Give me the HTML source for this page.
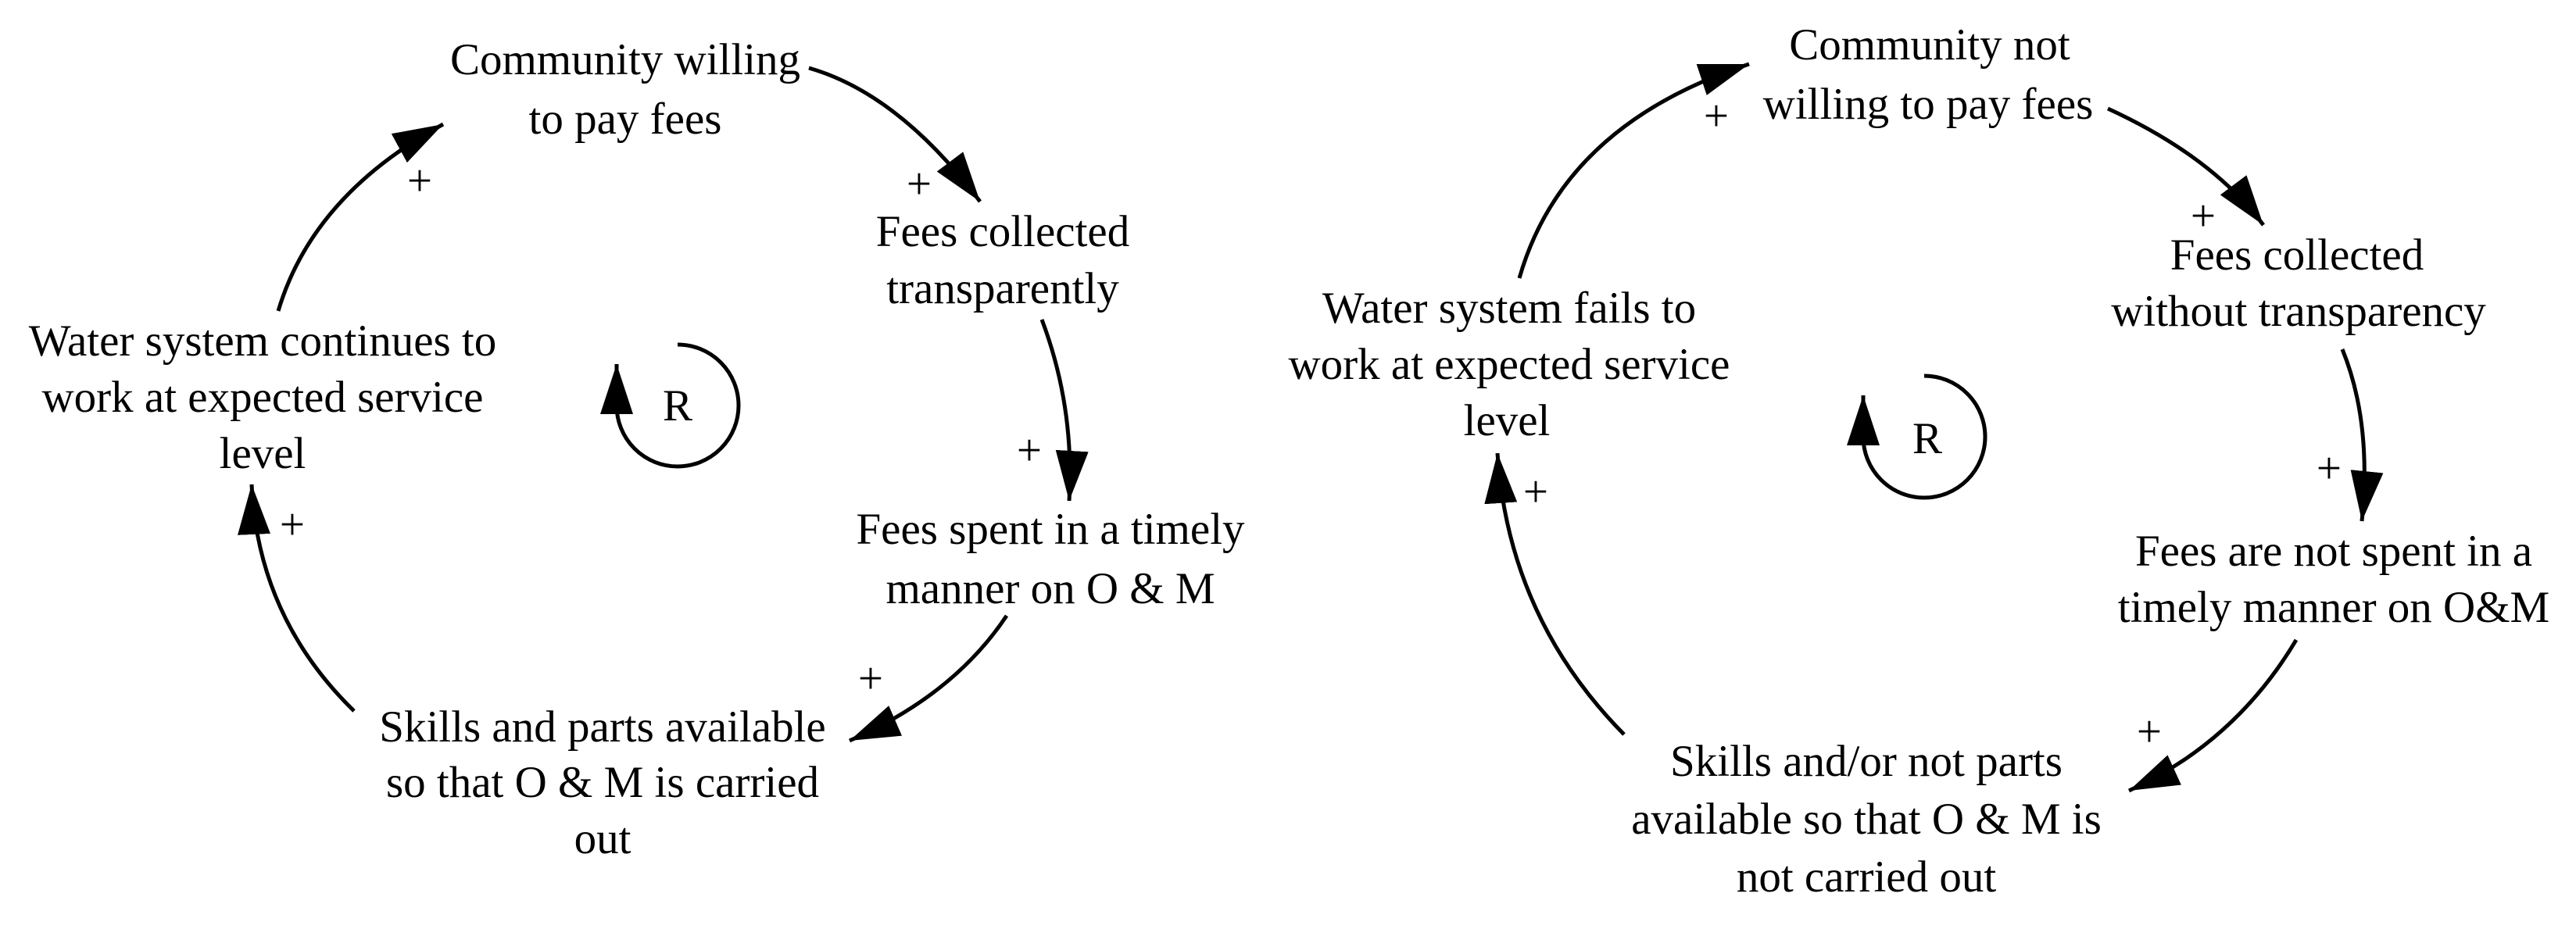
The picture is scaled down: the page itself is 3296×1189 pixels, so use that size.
<!DOCTYPE html>
<html><head><meta charset="utf-8"><style>
html,body{margin:0;padding:0;background:#fff;}
svg{display:block;}
text{font-family:"Liberation Serif",serif;font-size:57px;fill:#000;}
</style></head><body>
<svg width="3296" height="1189" viewBox="0 0 3296 1189" xmlns="http://www.w3.org/2000/svg">
<defs>
<marker id="a" markerUnits="userSpaceOnUse" markerWidth="70" markerHeight="46" refX="64" refY="21" orient="auto">
<path d="M0,0 L64,21 L0,42 z" fill="#000"/>
</marker>
</defs>
<g fill="none" stroke="#000" stroke-width="5">
<path d="M1035,87 Q1150,120 1254,258" marker-end="url(#a)"/>
<path d="M1333,409 Q1375,520 1368,641" marker-end="url(#a)"/>
<path d="M1288,788 Q1220,890 1087,948" marker-end="url(#a)"/>
<path d="M453,910 Q330,790 322,620" marker-end="url(#a)"/>
<path d="M356,398 Q400,250 567,159" marker-end="url(#a)"/>
<path d="M867,441 A78,78 0 1 1 789,519 L789,466" marker-end="url(#a)"/>
<path d="M1944,356 Q2000,160 2238,82" marker-end="url(#a)"/>
<path d="M2697,139 Q2830,200 2896,288" marker-end="url(#a)"/>
<path d="M2997,447 Q3035,540 3022,667" marker-end="url(#a)"/>
<path d="M2938,819 Q2860,950 2724,1012" marker-end="url(#a)"/>
<path d="M2078,940 Q1930,790 1916,580" marker-end="url(#a)"/>
<path d="M2462,481 A78,78 0 1 1 2384,559 L2384,506" marker-end="url(#a)"/>
</g>
<g text-anchor="middle">
<text x="800" y="95">Community willing</text>
<text x="800" y="171">to pay fees</text>
<text x="1283" y="315">Fees collected</text>
<text x="1283" y="388">transparently</text>
<text x="336" y="455">Water system continues to</text>
<text x="336" y="527">work at expected service</text>
<text x="336" y="599">level</text>
<text x="1344" y="696">Fees spent in a timely</text>
<text x="1344" y="772">manner on O &amp; M</text>
<text x="771" y="949">Skills and parts available</text>
<text x="771" y="1020">so that O &amp; M is carried</text>
<text x="771" y="1092">out</text>
<text x="867" y="538">R</text>
<text x="537" y="250">+</text>
<text x="1176" y="254">+</text>
<text x="1317" y="595">+</text>
<text x="374" y="690">+</text>
<text x="1114" y="887">+</text>

<text x="2469" y="76">Community not</text>
<text x="2467" y="152">willing to pay fees</text>
<text x="2939" y="345">Fees collected</text>
<text x="2941" y="417">without transparency</text>
<text x="1931" y="413">Water system fails to</text>
<text x="1931" y="485">work at expected service</text>
<text x="1928" y="557">level</text>
<text x="2986" y="724">Fees are not spent in a</text>
<text x="2986" y="796">timely manner on O&amp;M</text>
<text x="2388" y="993">Skills and/or not parts</text>
<text x="2388" y="1067">available so that O &amp; M is</text>
<text x="2388" y="1141">not carried out</text>
<text x="2466" y="580">R</text>
<text x="2196" y="167">+</text>
<text x="2819" y="295">+</text>
<text x="2980" y="618">+</text>
<text x="1965" y="648">+</text>
<text x="2750" y="955">+</text>
</g>
</svg>
</body></html>
